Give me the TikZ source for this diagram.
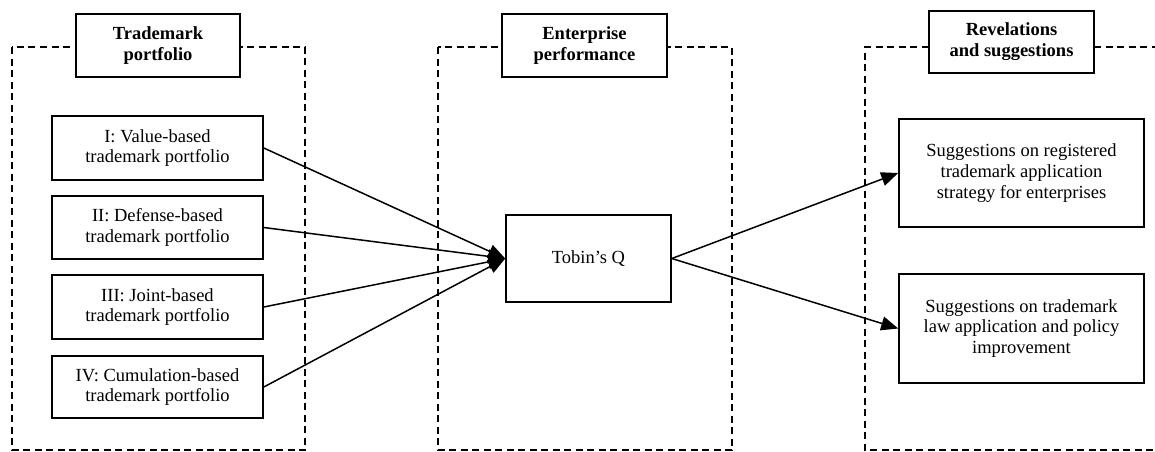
\documentclass[tikz,border=0pt]{standalone}
\usepackage{fontspec}
\setmainfont{Liberation Serif}
\usetikzlibrary{arrows.meta}
\tikzset{
  panel/.style={draw, line width=1.5pt, dash pattern=on 7pt off 4.5pt},
  itembox/.style={draw, fill=white, line width=1.6pt, align=center, inner sep=0pt,
    font=\fontsize{18.5}{20.8}\selectfont},
  headbox/.style={itembox, font=\fontsize{18.5}{21}\selectfont\bfseries},
  link/.style={line width=1.5pt, -{Triangle[length=17pt,width=14pt]}},
}
\begin{document}
\begin{tikzpicture}[x=1pt,y=-1pt]
\useasboundingbox (0,0) rectangle (1155,451);
\clip (0,0) rectangle (1155,451);

% dashed panels
\draw[panel] (12,47) rectangle (305,450);
\draw[panel] (438,47) rectangle (732,450);
\draw[panel] (1170,47) -- (865,47) -- (865,450) -- (1170,450);

% panel headings
\node[headbox, minimum width=164pt, minimum height=63pt] (h1) at (158,45.5) {Trademark\\portfolio};
\node[headbox, minimum width=165pt, minimum height=63pt] (h2) at (584.5,45.5) {Enterprise\\performance};
\node[headbox, minimum width=165pt, minimum height=62pt] (h3) at (1011.5,42) {Revelations\\and suggestions};

% portfolio types
\node[itembox, minimum width=211pt, minimum height=64pt] (p1) at (157.5,148) {I: Value-based\\trademark portfolio};
\node[itembox, minimum width=211pt, minimum height=63pt] (p2) at (157.5,227.5) {II: Defense-based\\trademark portfolio};
\node[itembox, minimum width=211pt, minimum height=64pt] (p3) at (157.5,307) {III: Joint-based\\trademark portfolio};
\node[itembox, minimum width=211pt, minimum height=62pt] (p4) at (157.5,387) {IV: Cumulation-based\\trademark portfolio};

% performance measure
\node[itembox, minimum width=165pt, minimum height=87pt] (q) at (588.5,258.5) {Tobin’s Q};

% suggestions
\node[itembox, minimum width=245pt, minimum height=108pt] (s1) at (1021.5,173) {Suggestions on registered\\trademark application\\strategy for enterprises};
\node[itembox, minimum width=245pt, minimum height=109pt] (s2) at (1021.5,328.5) {Suggestions on trademark\\law application and policy\\improvement};

% connectors
\foreach \p in {p1,p2,p3,p4} \draw[link] (\p.east) -- (q.west);
\draw[link] (q.east) -- (s1.west);
\draw[link] (q.east) -- (s2.west);
\end{tikzpicture}
\end{document}
